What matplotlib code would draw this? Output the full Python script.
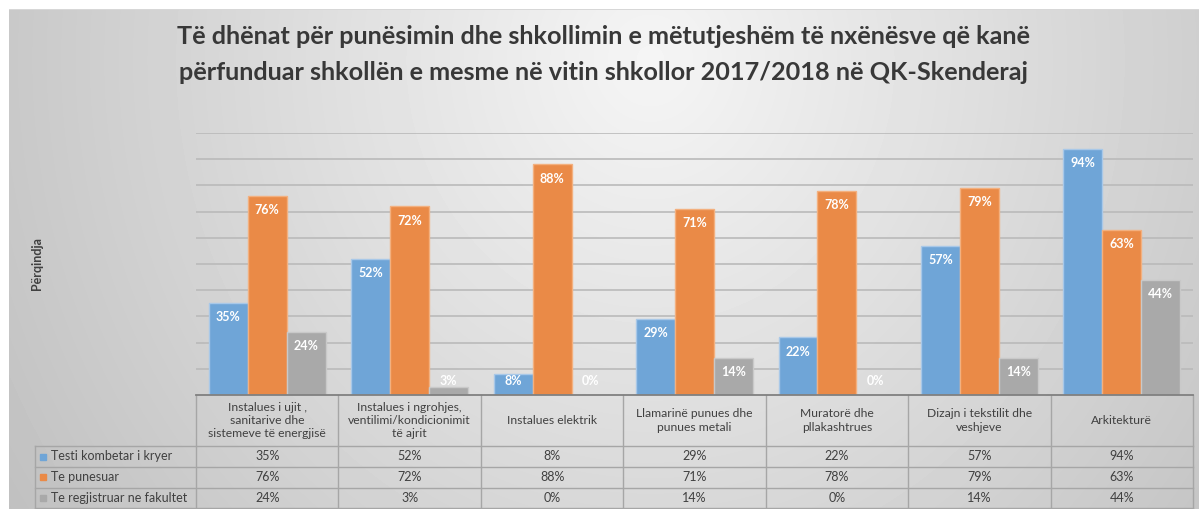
import numpy as np
import matplotlib.pyplot as plt
import matplotlib.transforms as mtransforms

plt.rcParams['font.family'] = ['Lato', 'DejaVu Sans']

categories = ['Instalues i ujit ,\nsanitarive dhe\nsistemeve të energjisë',
              'Instalues i ngrohjes,\nventilimi/kondicionimit\ntë ajrit',
              'Instalues elektrik',
              'Llamarinë punues dhe\npunues metali',
              'Muratorë dhe\npllakashtrues',
              'Dizajn i tekstilit dhe\nveshjeve',
              'Arkitekturë']
series_names = ['Testi kombetar i kryer', 'Te punesuar', 'Te regjistruar ne fakultet']
testi = [35, 52, 8, 29, 22, 57, 94]
punesuar = [76, 72, 88, 71, 78, 79, 63]
regjistruar = [24, 3, 0, 14, 0, 14, 44]
series = [testi, punesuar, regjistruar]

colors = ['#6fa5d7', '#ea8a47', '#a9a9a9']
edges = ['#a8c8e8', '#f3b07f', '#c9c9c9']
text_col = '#404040'
line_col = '#a6a6a6'

W, H = 1199, 509
fig = plt.figure(figsize=(W / 100, H / 100), dpi=100)


def fx(px):
    return px / W


def fy(py):
    return 1 - py / H


# gradient background of the chart area
yy, xx = np.mgrid[0:H, 0:W]
d = np.sqrt(((xx - 650) / 650) ** 2 + ((yy - 60) / 700) ** 2)
bg = np.clip(245 - 45 * d, 190, 246)
bg[:9, :] = 255
bg[:, :9] = 255
bg[9, 9:] = 215
bg_ax = fig.add_axes([0, 0, 1, 1], zorder=-1)
bg_ax.imshow(bg, cmap='gray', vmin=0, vmax=255, extent=(0, W, H, 0),
             aspect='auto', interpolation='bilinear')
bg_ax.axis('off')

base_y, top_y = 395, 133
left_x, right_x = 196, 1193
ax = fig.add_axes([fx(left_x), fy(base_y), fx(right_x - left_x), (base_y - top_y) / H])
ax.set_facecolor('none')

x = np.arange(len(categories))
bw = 0.273
for i, (vals, c, e) in enumerate(zip(series, colors, edges)):
    pos = x + (i - 1) * bw
    ax.bar(pos, vals, bw, color=c, edgecolor=e, linewidth=1, zorder=3)
    for xi, v in zip(pos, vals):
        ax.text(xi, max(v - 5.4, 5.3), f'{v}%', ha='center', va='center',
                color='white', fontweight='bold', fontsize=9, zorder=4)

ax.set_xlim(-0.5, len(categories) - 0.5)
ax.set_ylim(0, 100)
ax.set_yticks(range(10, 101, 10))
ax.yaxis.grid(True, color='#bababa', lw=1.2, zorder=0)
ax.tick_params(left=False, bottom=False, labelleft=False, labelbottom=False)
for s in ['left', 'right', 'top']:
    ax.spines[s].set_visible(False)
ax.spines['bottom'].set_color('#808080')
ax.spines['bottom'].set_linewidth(1.3)
ax.spines['bottom'].set_zorder(5)

# data table below the plot
trans = mtransforms.blended_transform_factory(ax.transData, fig.transFigure)
rows_y = [446, 467, 487.5, 507.5]
row_centers = [456.5, 477, 497.5]
leg_x = 35

for b in np.arange(len(categories) + 1) - 0.5:
    ax.plot([b, b], [fy(base_y), fy(rows_y[-1])], transform=trans,
            color=line_col, lw=1, clip_on=False)
ax.plot([fx(leg_x), fx(leg_x)], [fy(rows_y[0]), fy(rows_y[-1])],
        transform=fig.transFigure, color=line_col, lw=1, clip_on=False)
for r in rows_y:
    ax.plot([fx(leg_x), fx(right_x)], [fy(r), fy(r)], transform=fig.transFigure,
            color=line_col, lw=1, clip_on=False)

for xi, cat in zip(x, categories):
    ax.text(xi, fy((base_y + rows_y[0]) / 2), cat, transform=trans, ha='center',
            va='center', fontsize=8.7, color=text_col, linespacing=1.25)

for name, vals, c, ry in zip(series_names, series, colors, row_centers):
    ax.plot([fx(43)], [fy(ry)], marker='s', markersize=5, color=c,
            transform=fig.transFigure, clip_on=False)
    fig.text(fx(51), fy(ry), name, ha='left', va='center', fontsize=9, color=text_col)
    for xi, v in zip(x, vals):
        ax.text(xi, fy(ry), f'{v}%', transform=trans, ha='center', va='center',
                fontsize=9, color=text_col)

fig.text(0.503, fy(37), 'Të dhënat për punësimin dhe shkollimin e mëtutjeshëm të nxënësve që kanë',
         ha='center', va='center', fontsize=18.2, fontweight='bold', color='#383838')
fig.text(0.503, fy(72), 'përfunduar shkollën e mesme në vitin shkollor 2017/2018 në QK-Skenderaj',
         ha='center', va='center', fontsize=18.2, fontweight='bold', color='#383838')

fig.text(fx(37.5), fy(264), 'Përqindja', rotation=90, ha='center', va='center',
         fontsize=9, fontweight='bold', color=text_col)

fig.savefig('out.png', dpi=100)
